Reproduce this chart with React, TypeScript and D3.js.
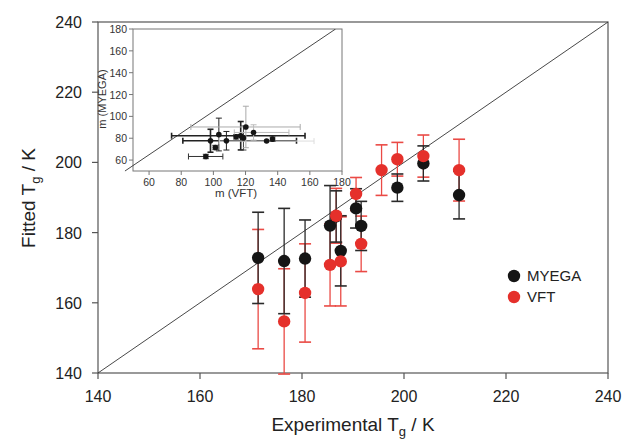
import React from "react";
import * as d3 from "d3";

// ---------- main plot data ----------
const tgExperimental = [171.4, 176.5, 180.6, 185.5, 186.7, 187.6, 190.6, 191.6, 195.6, 198.7, 203.8, 210.8];
const tgMyega: (number | null)[] = [172.8, 171.9, 172.6, 182.0, 184.6, 174.8, 186.9, 181.9, null, 192.8, 199.7, 190.7];
const errMyega: (number | null)[] = [13, 15, 11, 11.4, 7.3, 10, 5.6, 7, null, 3.9, 5, 6.8];
const tgVft = [163.9, 154.7, 162.8, 170.8, 184.8, 171.8, 191.0, 176.8, 197.8, 200.9, 201.8, 197.8];
const errVft = [17, 15, 14, 11.7, 7.8, 12.7, 4.7, 7.9, 7.2, 4.8, 6, 8.8];
const mainTicks = [140, 160, 180, 200, 220, 240];
const mainDomain = [140, 240];
const legendLabels = ["MYEGA", "VFT"];

// ---------- inset data ----------
const mVft = [95.3, 98.2, 101.2, 103.4, 108.1, 114.1, 117, 118.7, 120.2, 125, 133.1, 136.8];
const mMyega = [63.3, 77.7, 71.5, 83.4, 77.7, 81.3, 82.3, 80.2, 90.3, 85.3, 77.4, 79.2];
const mVftLo: (number | null)[] = [84.5, 81, null, null, null, null, 74, null, 86, 113, 103.6, null];
const mVftHi: (number | null)[] = [105.9, 151.7, null, null, null, null, 157, null, 154, 147, 162.6, null];
const mMyegaErr = [2, 10.5, 2, 15, 8.5, 2, 13, 11, 19, 7, 0, 2];
const insetErrShade = ["#333", "#222", "#333", "#222", "#222", "#333", "#222", "#444", "#aaa", "#bbb", "#ddd", "#333"];
const insetTicks = [60, 80, 100, 120, 140, 160, 180];
const insetDomain = [50, 180];
const insetRefLine = [[45, 50], [176, 180]];

const W = 622, H = 442;
const font = "Liberation Sans, Arial, sans-serif";
const BLACK = "#151515";
const RED = "#e5302b";
const RED_ERR = "#ea4a45";

export default function App() {
  const x = d3.scaleLinear().domain(mainDomain).range([98, 608]);
  const y = d3.scaleLinear().domain(mainDomain).range([373, 22]);
  const ix = d3.scaleLinear().domain(insetDomain).range([133, 342]);
  const iy = d3.scaleLinear().domain(insetDomain).range([171, 29]);
  const capW = 6;
  const line = d3.line<number[]>().x(d => x(d[0])).y(d => y(d[1]));
  const iline = d3.line<number[]>().x(d => ix(d[0])).y(d => iy(d[1]));
  const axisColor = "#555";

  const errBar = (cx: number, v: number, e: number, color: string, key: string, sw = 1.3) => (
    <g key={key} stroke={color} strokeWidth={sw}>
      <line x1={x(cx)} x2={x(cx)} y1={y(v - e)} y2={y(v + e)} />
      <line x1={x(cx) - capW} x2={x(cx) + capW} y1={y(v - e)} y2={y(v - e)} strokeWidth={1.6} />
      <line x1={x(cx) - capW} x2={x(cx) + capW} y1={y(v + e)} y2={y(v + e)} strokeWidth={1.6} />
    </g>
  );

  return (
    <svg width={W} height={H} style={{ position: "absolute", left: 0, top: 0, background: "#fff" }} fontFamily={font}>
      <rect width={W} height={H} fill="#fff" />
      {/* main frame */}
      <rect x={x(140)} y={y(240)} width={x(240) - x(140)} height={y(140) - y(240)} fill="none" stroke={axisColor} strokeWidth={1.2} />
      {/* diagonal */}
      <path d={line([[140, 140], [240, 240]]) || ""} stroke="#333" strokeWidth={0.9} fill="none" />
      {/* main ticks */}
      {mainTicks.map(t => (
        <g key={"yt" + t}>
          <line x1={x(140) - 6} x2={x(140)} y1={y(t)} y2={y(t)} stroke={axisColor} strokeWidth={1.2} />
          <text x={82} y={y(t) + 6} fontSize={16} textAnchor="end" fill="#222">{t}</text>
        </g>
      ))}
      {mainTicks.map(t => (
        <g key={"xt" + t}>
          <line x1={x(t)} x2={x(t)} y1={y(140)} y2={y(140) + 6} stroke={axisColor} strokeWidth={1.2} />
          <text x={x(t)} y={402} fontSize={16} textAnchor="middle" fill="#222">{t}</text>
        </g>
      ))}
      {/* axis titles */}
      <text x={353} y={431} fontSize={19} textAnchor="middle" fill="#222">
        Experimental T<tspan fontSize={13} dy={5}>g</tspan><tspan dy={-5}> / K</tspan>
      </text>
      <text transform="translate(35,198) rotate(-90)" fontSize={19} textAnchor="middle" fill="#222">
        Fitted T<tspan fontSize={13} dy={5}>g</tspan><tspan dy={-5}> / K</tspan>
      </text>

      {/* inset */}
      <rect x={ix(50)} y={iy(180)} width={ix(180) - ix(50)} height={iy(50) - iy(180)} fill="#fff" stroke="#777" strokeWidth={1} />
      <clipPath id="insetClip"><rect x={120} y={iy(180)} width={ix(180) - 120} height={iy(50) - iy(180) + 2} /></clipPath>
      <path d={iline(insetRefLine) || ""} stroke="#333" strokeWidth={0.9} fill="none" clipPath="url(#insetClip)" />
      {insetTicks.map(t => (
        <g key={"iyt" + t}>
          <line x1={ix(50) - 4} x2={ix(50)} y1={iy(t)} y2={iy(t)} stroke="#777" />
          <text x={127} y={iy(t) + 4} fontSize={10.5} textAnchor="end" fill="#333">{t}</text>
        </g>
      ))}
      {insetTicks.map(t => (
        <g key={"ixt" + t}>
          <line x1={ix(t)} x2={ix(t)} y1={iy(50)} y2={iy(50) + 4} stroke="#777" />
          <text x={ix(t)} y={186} fontSize={10.5} textAnchor="middle" fill="#333">{t}</text>
        </g>
      ))}
      <text x={236} y={197} fontSize={11.5} textAnchor="middle" fill="#333">m (VFT)</text>
      <text transform="translate(106,99) rotate(-90)" fontSize={11} textAnchor="middle" fill="#333">m (MYEGA)</text>
      {mVft.map((v, i) => {
        const c = insetErrShade[i];
        const lo = mVftLo[i], hi = mVftHi[i];
        const e = mMyegaErr[i];
        return (
          <g key={"ie" + i} stroke={c} strokeWidth={i === 6 || i === 1 ? 1.6 : 1}>
            {lo != null && hi != null && (
              <>
                <line x1={ix(lo)} x2={ix(hi)} y1={iy(mMyega[i])} y2={iy(mMyega[i])} />
                <line x1={ix(lo)} x2={ix(lo)} y1={iy(mMyega[i]) - 3} y2={iy(mMyega[i]) + 3} />
                <line x1={ix(hi)} x2={ix(hi)} y1={iy(mMyega[i]) - 3} y2={iy(mMyega[i]) + 3} />
              </>
            )}
            {e > 0 && (
              <>
                <line x1={ix(v)} x2={ix(v)} y1={iy(mMyega[i] - e)} y2={iy(mMyega[i] + e)} />
                <line x1={ix(v) - 3} x2={ix(v) + 3} y1={iy(mMyega[i] - e)} y2={iy(mMyega[i] - e)} />
                <line x1={ix(v) - 3} x2={ix(v) + 3} y1={iy(mMyega[i] + e)} y2={iy(mMyega[i] + e)} />
              </>
            )}
          </g>
        );
      })}
      {mVft.map((v, i) => (
        <circle key={"ip" + i} cx={ix(v)} cy={iy(mMyega[i])} r={2.8} fill={BLACK} />
      ))}

      {/* error bars */}
      {tgExperimental.map((t, i) => errBar(t, tgVft[i], errVft[i], RED_ERR, "ev" + i))}
      {tgExperimental.map((t, i) => {
        const v = tgMyega[i], e = errMyega[i];
        return v != null && e != null ? errBar(t, v, e, "#2a2a2a", "em" + i) : null;
      })}
      {/* points */}
      {tgExperimental.map((t, i) => {
        const v = tgMyega[i];
        return v != null ? <circle key={"pm" + i} cx={x(t)} cy={y(v)} r={6.2} fill={BLACK} /> : null;
      })}
      {tgExperimental.map((t, i) => (
        <circle key={"pv" + i} cx={x(t)} cy={y(tgVft[i])} r={6.2} fill={RED} />
      ))}

      {/* legend */}
      {legendLabels.map((l, i) => (
        <g key={l}>
          <circle cx={514} cy={276 + i * 21} r={6.2} fill={i === 0 ? BLACK : RED} />
          <text x={527} y={281 + i * 21} fontSize={15} fill="#222">{l}</text>
        </g>
      ))}
    </svg>
  );
}
